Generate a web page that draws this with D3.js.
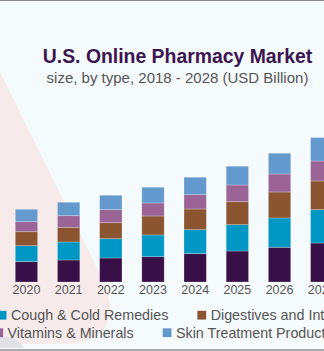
<!DOCTYPE html>
<html>
<head>
<meta charset="utf-8">
<script src="https://cdn.jsdelivr.net/npm/d3@7"></script>
<style>
  html, body { margin: 0; padding: 0; background: #f5fafd; }
  svg { display: block; }
  text { font-family: "Liberation Sans", Arial, sans-serif; }
</style>
</head>
<body>
<svg id="chart" width="324" height="351"></svg>
<script>
// U.S. online pharmacy market by type, USD billion
const years = ["2018", "2019", "2020", "2021", "2022", "2023", "2024", "2025", "2026", "2027", "2028"];
const seriesNames = ["Analgesics", "Cough & Cold Remedies", "Digestives and Intestinal Remedies", "Vitamins & Minerals", "Skin Treatment Products"];
const seriesColors = ["#371047", "#0097c4", "#8a5530", "#9a6497", "#6399cc"];

const analgesics = [4.3, 4.7, 5.08, 5.5, 6.0, 6.33, 7.08, 7.75, 8.68, 9.75, 10.9];
const coughCold  = [3.3, 3.7, 4.0, 4.5, 4.83, 5.43, 6.0, 6.58, 7.33, 8.33, 9.4];
const digestives = [2.9, 3.2, 3.5, 3.68, 4.0, 4.75, 5.18, 5.75, 6.5, 7.18, 8.0];
const vitamins   = [2.1, 2.3, 2.5, 2.9, 3.25, 3.25, 3.58, 4.18, 4.5, 5.0, 5.6];
const skinCare   = [2.6, 2.85, 3.1, 3.35, 3.6, 3.93, 4.35, 4.68, 5.18, 5.85, 6.6];

const seriesValues = [analgesics, coughCold, digestives, vitamins, skinCare];

const titleText = "U.S. Online Pharmacy Market";
const subtitleText = "size, by type, 2018 - 2028 (USD Billion)";

const W = 324, H = 351;
const svg = d3.select("#chart");

// background and decorative shapes
svg.append("rect").attr("width", W).attr("height", H).attr("fill", "#f5fafd");
svg.append("path")
  .attr("d", "M0,72 L96,266 C106,286 112,300 109,317 C105,334 92,342 70,344 L0,344 Z")
  .attr("fill", "#f6ebea");
svg.append("path")
  .attr("d", "M0,336 C8,336 18,338 24,348 L0,348 Z")
  .attr("fill", "#e3dfe7");
svg.append("rect").attr("x", 0).attr("y", 0).attr("width", W).attr("height", 1).attr("fill", "#8a8a8a");
svg.append("rect").attr("x", 0).attr("y", 349).attr("width", W).attr("height", 2).attr("fill", "#ababab");

// titles
svg.append("text")
  .attr("x", 177.5).attr("y", 63.3)
  .attr("text-anchor", "middle")
  .attr("font-size", 19.4).attr("font-weight", "bold")
  .attr("fill", "#3a1550")
  .text(titleText);
svg.append("text")
  .attr("x", 177.5).attr("y", 82.5)
  .attr("text-anchor", "middle")
  .attr("font-size", 15)
  .attr("fill", "#555555")
  .text(subtitleText);

// scales
const x = d3.scaleBand().domain(years).range([-79, 385]).paddingInner(0.47).paddingOuter(0.235);
const y = d3.scaleLinear().domain([0, 40]).range([282, 122]);

// stacked data
const table = years.map((yr, i) => {
  const row = { year: yr };
  seriesNames.forEach((n, k) => { row[n] = seriesValues[k][i]; });
  return row;
});
const stack = d3.stack().keys(seriesNames)(table);

const g = svg.append("g");
g.selectAll("g.series")
  .data(stack)
  .join("g")
  .attr("class", "series")
  .attr("fill", (d, i) => seriesColors[i])
  .selectAll("rect")
  .data(d => d)
  .join("rect")
  .attr("x", d => x(d.data.year))
  .attr("width", x.bandwidth())
  .attr("y", d => y(d[1]))
  .attr("height", d => y(d[0]) - y(d[1]))
  .attr("stroke", "#ffffff")
  .attr("stroke-opacity", 0.3)
  .attr("stroke-width", 0.8);

// x axis labels
const xAxis = d3.axisBottom(x).tickSize(0).tickPadding(0);
const ax = svg.append("g").attr("transform", "translate(0,282)").call(xAxis);
ax.select(".domain").remove();
ax.selectAll("text")
  .attr("dy", null)
  .attr("y", 11.5)
  .attr("font-size", 12.5)
  .attr("font-family", "'Liberation Sans', Arial, sans-serif")
  .attr("fill", "#555555");

// legend, two rows
const legendRows = [[0, 1, 2], [3, 4]];
const rowAnchors = [{ idx: 1, x: -2.3, y: 320 }, { idx: 3, x: -5.7, y: 337.5 }];
const sq = 8.8, gapText = 4.5, gapItem = 29;
const leg = svg.append("g");
legendRows.forEach((row, r) => {
  const anchor = rowAnchors[r];
  // measure each item's label width first
  const widths = row.map(k => {
    const t = leg.append("text").attr("font-size", 14.3).text(seriesNames[k]);
    const w = t.node().getComputedTextLength();
    t.remove();
    return w;
  });
  const itemW = widths.map(w => sq + gapText + w + gapItem);
  const ai = row.indexOf(anchor.idx);
  let startX = anchor.x;
  for (let j = ai - 1; j >= 0; j--) startX -= itemW[j];
  let cx = startX;
  row.forEach((k, j) => {
    leg.append("rect")
      .attr("x", cx).attr("y", anchor.y - 9.2)
      .attr("width", sq).attr("height", sq)
      .attr("fill", seriesColors[k]);
    leg.append("text")
      .attr("x", cx + sq + gapText).attr("y", anchor.y)
      .attr("font-size", 14.3)
      .attr("fill", "#555555")
      .text(seriesNames[k]);
    cx += itemW[j];
  });
});
</script>
</body>
</html>
